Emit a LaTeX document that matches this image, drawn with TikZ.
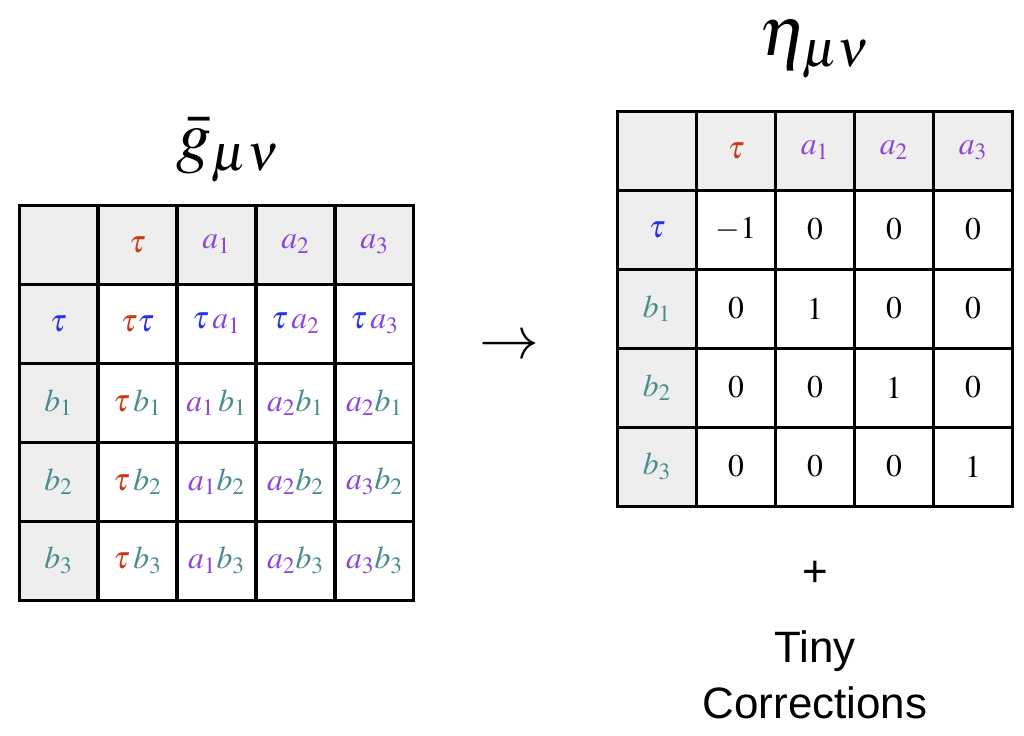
\documentclass[tikz,border=0pt]{standalone}
\usepackage{amsmath, amssymb}
\usepackage{mathptmx}
\usepackage{fontspec}
\setsansfont{Liberation Sans}
\usepackage{tikz}
\usepackage{color}

\newcommand{\tr}[1]{{\color{ctr}#1}}
\newcommand{\tb}[1]{{\color{ctb}#1}}
\newcommand{\ta}[1]{{\color{cta}#1}}
\newcommand{\tbb}[1]{{\color{ctbb}#1}}

\begin{document}
\begin{tikzpicture}[x=0.02cm,y=-0.02cm,
  cell/.style={minimum size=1.58cm,inner sep=0pt,draw=black,line width=0.06cm,fill=white,
    font=\fontsize{18}{20}\selectfont},
  head/.style={cell,fill=cfh},
  title/.style={font=\fontsize{40}{42}\selectfont,inner sep=1pt}]
\definecolor{ctr}{rgb}{0.80,0.22,0.08}
\definecolor{ctb}{rgb}{0.16,0.20,0.90}
\definecolor{cta}{rgb}{0.55,0.27,0.86}
\definecolor{ctbb}{rgb}{0.29,0.55,0.55}
\definecolor{cfh}{rgb}{0.933,0.933,0.933}
\useasboundingbox (0,0) rectangle (1024,735);
%
\node[title] (gt) at (228,150) {$\bar{g}_{\mu\nu}$};
\node[title] (et) at (815,49) {$\eta_{\mu\nu}$};
%
\node[head] (l00) at (58.5,244.5) {};
\node[head] (l01) at (137.5,244.5) {$\tr{\tau}$};
\node[head] (l02) at (216.5,244.5) {$\ta{a_1}$};
\node[head] (l03) at (295.5,244.5) {$\ta{a_2}$};
\node[head] (l04) at (374.5,244.5) {$\ta{a_3}$};
\node[head] (l10) at (58.5,323.5) {$\tb{\tau}$};
\node[cell] (l11) at (137.5,323.5) {$\tr{\tau}\tb{\tau}$};
\node[cell] (l12) at (216.5,323.5) {$\tb{\tau}\,\ta{a_1}$};
\node[cell] (l13) at (295.5,323.5) {$\tb{\tau}\,\ta{a_2}$};
\node[cell] (l14) at (374.5,323.5) {$\tb{\tau}\,\ta{a_3}$};
\node[head] (l20) at (58.5,402.5) {$\tbb{b_1}$};
\node[cell] (l21) at (137.5,402.5) {$\tr{\tau}\,\tbb{b_1}$};
\node[cell] (l22) at (216.5,402.5) {$\ta{a_1}\,\tbb{b_1}$};
\node[cell] (l23) at (295.5,402.5) {$\ta{a_2}\tbb{b_1}$};
\node[cell] (l24) at (374.5,402.5) {$\ta{a_2}\tbb{b_1}$};
\node[head] (l30) at (58.5,481.5) {$\tbb{b_2}$};
\node[cell] (l31) at (137.5,481.5) {$\tr{\tau}\,\tbb{b_2}$};
\node[cell] (l32) at (216.5,481.5) {$\ta{a_1}\tbb{b_2}$};
\node[cell] (l33) at (295.5,481.5) {$\ta{a_2}\tbb{b_2}$};
\node[cell] (l34) at (374.5,481.5) {$\ta{a_3}\tbb{b_2}$};
\node[head] (l40) at (58.5,560.5) {$\tbb{b_3}$};
\node[cell] (l41) at (137.5,560.5) {$\tr{\tau}\,\tbb{b_3}$};
\node[cell] (l42) at (216.5,560.5) {$\ta{a_1}\tbb{b_3}$};
\node[cell] (l43) at (295.5,560.5) {$\ta{a_2}\tbb{b_3}$};
\node[cell] (l44) at (374.5,560.5) {$\ta{a_3}\tbb{b_3}$};
%
\node[font=\fontsize{34}{36}\selectfont] (arr) at (509,348) {$\boldsymbol{\rightarrow}$};
%
\node[head] (r00) at (657,150.5) {};
\node[head] (r01) at (736,150.5) {$\tr{\tau}$};
\node[head] (r02) at (815,150.5) {$\ta{a_1}$};
\node[head] (r03) at (894,150.5) {$\ta{a_2}$};
\node[head] (r04) at (973,150.5) {$\ta{a_3}$};
\node[head] (r10) at (657,229.5) {$\tb{\tau}$};
\node[cell] (r11) at (736,229.5) {$-1$};
\node[cell] (r12) at (815,229.5) {$0$};
\node[cell] (r13) at (894,229.5) {$0$};
\node[cell] (r14) at (973,229.5) {$0$};
\node[head] (r20) at (657,308.5) {$\tbb{b_1}$};
\node[cell] (r21) at (736,308.5) {$0$};
\node[cell] (r22) at (815,308.5) {$1$};
\node[cell] (r23) at (894,308.5) {$0$};
\node[cell] (r24) at (973,308.5) {$0$};
\node[head] (r30) at (657,387.5) {$\tbb{b_2}$};
\node[cell] (r31) at (736,387.5) {$0$};
\node[cell] (r32) at (815,387.5) {$0$};
\node[cell] (r33) at (894,387.5) {$1$};
\node[cell] (r34) at (973,387.5) {$0$};
\node[head] (r40) at (657,466.5) {$\tbb{b_3}$};
\node[cell] (r41) at (736,466.5) {$0$};
\node[cell] (r42) at (815,466.5) {$0$};
\node[cell] (r43) at (894,466.5) {$0$};
\node[cell] (r44) at (973,466.5) {$1$};
%
\node[font=\sffamily\fontsize{25}{28}\selectfont] (plus) at (815,574) {+};
\node[font=\sffamily\fontsize{25}{32}\selectfont,align=center] (tiny) at (815,675) {Tiny\\Corrections};
%
\end{tikzpicture}
\end{document}
